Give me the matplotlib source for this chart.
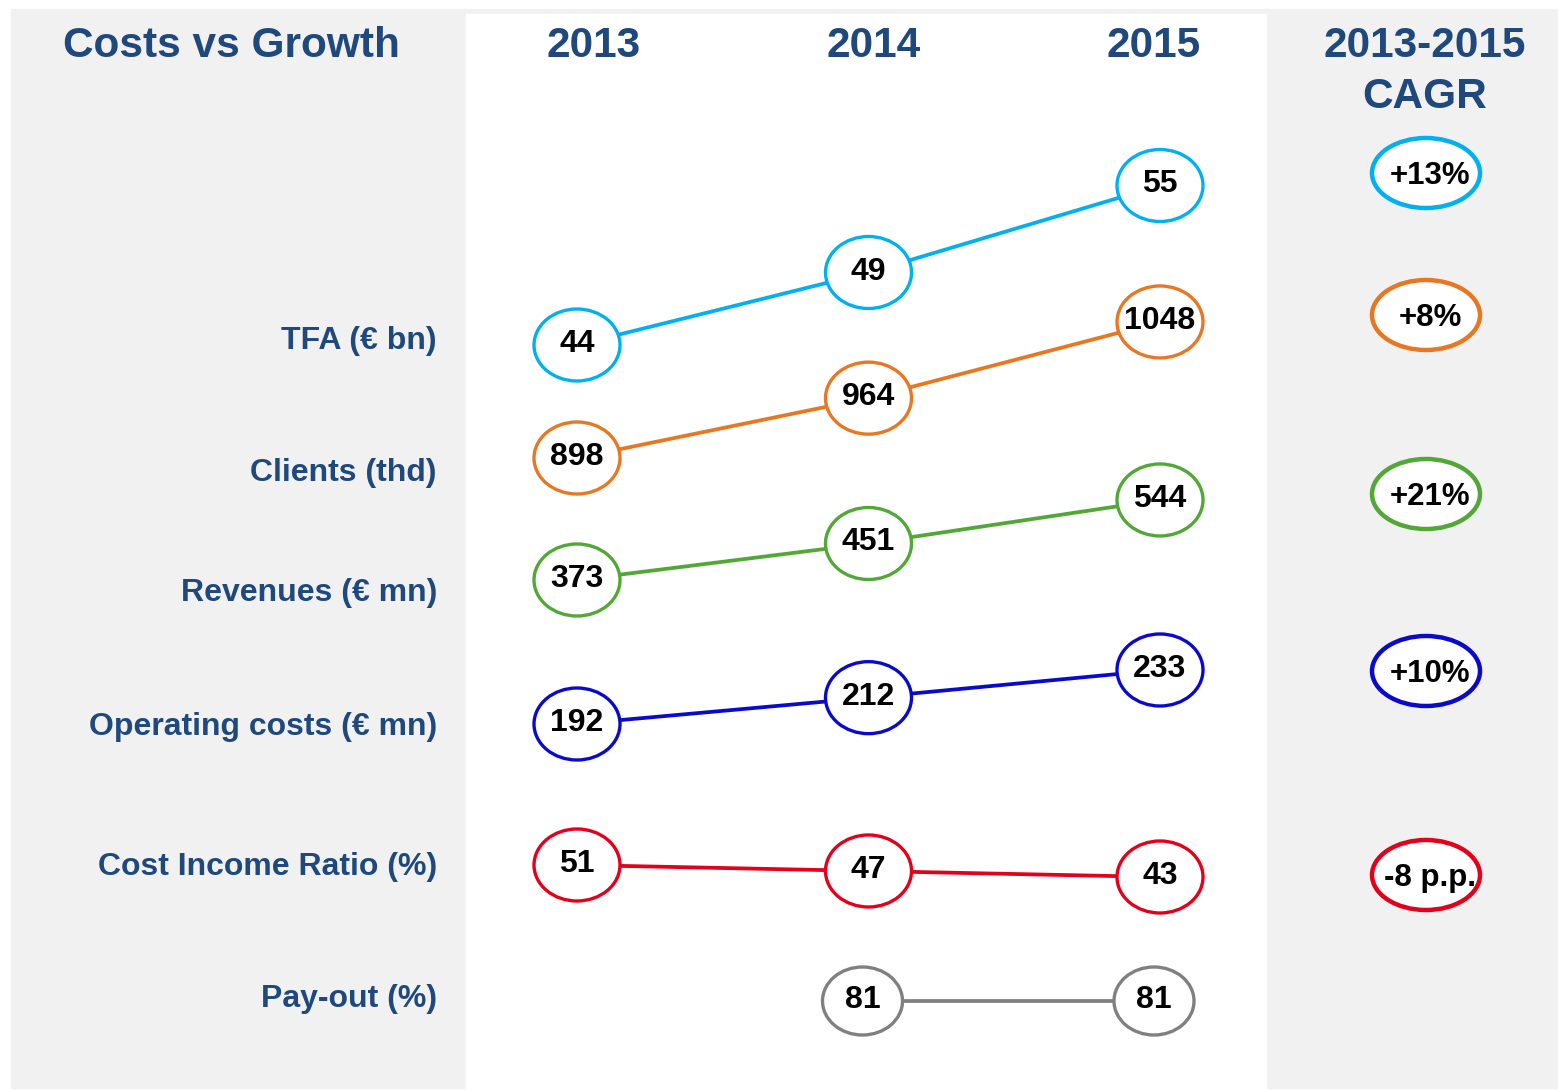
import matplotlib
matplotlib.use("Agg")
import matplotlib.pyplot as plt
from matplotlib.patches import Ellipse, Rectangle

# data
years = ['2013', '2014', '2015']
metrics = ['TFA (€ bn)', 'Clients (thd)', 'Revenues (€ mn)',
           'Operating costs (€ mn)', 'Cost Income Ratio (%)', 'Pay-out (%)']
tfa = [44, 49, 55]
clients = [898, 964, 1048]
revenues = [373, 451, 544]
op_costs = [192, 212, 233]
cost_income = [51, 47, 43]
payout = [None, 81, 81]
cagr = ['+13%', '+8%', '+21%', '+10%', '-8 p.p.']

series = [tfa, clients, revenues, op_costs, cost_income, payout]
colors = ['#00B0F0', '#E87722', '#52A836', '#0A0ACC', '#E2001A', '#808080']

# layout (pixel space)
W, H = 1558, 1090
title_col = '#1F497D'
x_first, x_step = 577, 291.5
row_anchor = [345, 458, 580, 724, 865, 1001]     # y pixel of the first value in each row
row_scale = [14.5, 0.907, 0.468, 1.317, 1.5, 1.0]  # px per unit in each row
label_y = [341, 473, 593, 727, 867, 999]
cagr_y = [173, 315, 494, 671, 875]

LAB = 'Liberation Sans'

fig = plt.figure(figsize=(W / 100, H / 100), dpi=100)
ax = fig.add_axes([0, 0, 1, 1])
ax.set_xlim(0, W)
ax.set_ylim(H, 0)
ax.axis('off')

ax.add_patch(Rectangle((11, 9), W - 11, 1079, color='#F1F1F1', zorder=0))
ax.add_patch(Rectangle((466, 14), 800, H - 14, color='white', zorder=0))

ax.text(63, 46, 'Costs vs Growth', fontsize=30.5, fontweight='bold', color=title_col,
        family=LAB, ha='left', va='center')
for i, yr in enumerate(years):
    ax.text(x_first + 17 + i * 280, 46, yr, fontsize=30.5, fontweight='bold',
            color=title_col, family=LAB, ha='center', va='center')
ax.text(1425, 46, '2013-2015', fontsize=30.5, fontweight='bold', color=title_col,
        family=LAB, ha='center', va='center')
ax.text(1425, 97, 'CAGR', fontsize=30.5, fontweight='bold', color=title_col,
        family=LAB, ha='center', va='center')

for r, (name, vals, c) in enumerate(zip(metrics, series, colors)):
    ax.text(437, label_y[r], name, fontsize=23, fontweight='bold', color=title_col,
            family=LAB, ha='right', va='center')
    first = next(v for v in vals if v is not None)
    shift = -6 if r == 5 else 0
    pts = []
    for i, v in enumerate(vals):
        if v is None:
            continue
        x = x_first + i * x_step + shift
        y = row_anchor[r] - (v - first) * row_scale[r]
        pts.append((x, y, v))
    ax.plot([p[0] for p in pts], [p[1] for p in pts], color=c, lw=2.7,
            zorder=2, solid_capstyle='butt')
    ew, eh = (80, 68) if r == 5 else (86, 72)
    for x, y, v in pts:
        ax.add_patch(Ellipse((x, y), ew, eh, facecolor='white', edgecolor=c,
                             lw=2.4, zorder=3))
        ax.text(x, y - 1, str(v), fontsize=23, fontweight='bold', color='black',
                family=LAB, ha='center', va='center', zorder=4)

for r, txt in enumerate(cagr):
    ax.add_patch(Ellipse((1426, cagr_y[r]), 108, 70, facecolor='white',
                         edgecolor=colors[r], lw=3.2, zorder=3))
    ax.text(1430, cagr_y[r] + 3, txt, fontsize=22.5, fontweight='bold', color='black',
            family=LAB, ha='center', va='center', zorder=4)

fig.savefig('out.png', dpi=100)
